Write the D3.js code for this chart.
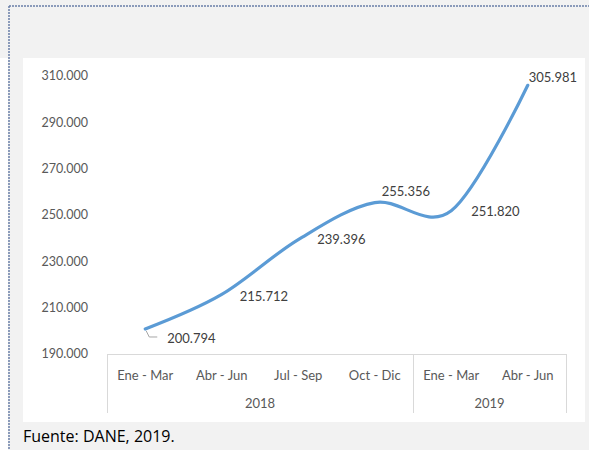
<!DOCTYPE html>
<html lang="es">
<head>
  <meta charset="UTF-8">
  <title>Chart</title>
  <script src="https://d3js.org/d3.v7.min.js"></script>
  <style>
    body { margin: 0; background: #f2f2f2; }
    svg { display: block; font-family: Lato, "Open Sans", sans-serif; }
  </style>
</head>
<body>
  <div id="viz"></div>

  <script>
    // Data
    const quarters = ["Ene - Mar", "Abr - Jun", "Jul - Sep", "Oct - Dic", "Ene - Mar", "Abr - Jun"];
    const years = ["2018", "2018", "2018", "2018", "2019", "2019"];
    const values = [200794, 215712, 239396, 255356, 251820, 305981];
    const yTicks = [190000, 210000, 230000, 250000, 270000, 290000, 310000];

    // Label offsets from each point (px)
    const labelDx = [22, 18, 19, 7, 20, 1];
    const labelDy = [9, 2, 0, -11, 1, -8];

    const W = 589, H = 450;
    const plotLeft = 107, plotRight = 566, plotTop = 76, plotBottom = 354;

    const svg = d3.select('#viz')
      .append('svg')
        .attr('width', W)
        .attr('height', H);

    // backgrounds
    svg.append('rect').attr('x', 0).attr('y', 0).attr('width', W).attr('height', H).attr('fill', '#f2f2f2');
    svg.append('rect').attr('x', 0).attr('y', 58).attr('width', 8).attr('height', H - 58).attr('fill', '#ffffff');
    svg.append('rect').attr('x', 23).attr('y', 58).attr('width', 562).attr('height', 364).attr('fill', '#ffffff');

    // dashed frame lines
    svg.append('line').attr('x1', 9).attr('x2', W).attr('y1', 6).attr('y2', 6)
      .attr('stroke', '#6a7fa8').attr('stroke-width', 1.5).attr('stroke-dasharray', '2,1');
    svg.append('line').attr('x1', 9).attr('x2', 9).attr('y1', 6).attr('y2', H)
      .attr('stroke', '#6a7fa8').attr('stroke-width', 1.5).attr('stroke-dasharray', '2,1');

    const idx = d3.range(values.length);
    const x = d3.scaleBand()
      .domain(idx)
      .range([plotLeft, plotRight])
      .padding(0);
    const y = d3.scaleLinear()
      .domain([190000, 310000])
      .range([plotBottom, plotTop]);

    const fmt = d3.formatLocale({ decimal: ",", thousands: ".", grouping: [3], currency: ["$", ""] }).format(",.0f");

    // y axis labels
    svg.append('g')
      .selectAll('text')
      .data(yTicks)
      .join('text')
        .attr('x', 88)
        .attr('y', d => y(d))
        .attr('dy', '0.35em')
        .attr('text-anchor', 'end')
        .attr('font-size', 12.5)
        .attr('fill', '#595959')
        .text(d => fmt(d));

    // x axis: top line, group separators
    const axisColor = '#d9d9d9';
    svg.append('line')
      .attr('x1', plotLeft).attr('x2', plotRight)
      .attr('y1', plotBottom + 0.5).attr('y2', plotBottom + 0.5)
      .attr('stroke', axisColor);

    const groups = d3.groups(idx, i => years[i]);
    const bounds = [plotLeft].concat(groups.map(g => x(g[1][g[1].length - 1]) + x.bandwidth()));
    svg.append('g')
      .selectAll('line')
      .data(bounds)
      .join('line')
        .attr('x1', d => Math.round(d) + 0.5).attr('x2', d => Math.round(d) + 0.5)
        .attr('y1', plotBottom).attr('y2', 413)
        .attr('stroke', axisColor);

    svg.append('g')
      .selectAll('text')
      .data(idx)
      .join('text')
        .attr('x', i => x(i) + x.bandwidth() / 2)
        .attr('y', 375)
        .attr('dy', '0.35em')
        .attr('text-anchor', 'middle')
        .attr('font-size', 13)
        .attr('fill', '#595959')
        .text(i => quarters[i]);

    svg.append('g')
      .selectAll('text')
      .data(groups)
      .join('text')
        .attr('x', g => (x(g[1][0]) + x(g[1][g[1].length - 1]) + x.bandwidth()) / 2)
        .attr('y', 403)
        .attr('dy', '0.35em')
        .attr('text-anchor', 'middle')
        .attr('font-size', 13)
        .attr('fill', '#595959')
        .text(g => g[0]);

    // smoothed line
    const line = d3.line()
      .x(i => x(i) + x.bandwidth() / 2)
      .y(i => y(values[i]))
      .curve(d3.curveCardinal.tension(0));

    svg.append('path')
      .datum(idx)
      .attr('d', line)
      .attr('fill', 'none')
      .attr('stroke', '#5b9bd5')
      .attr('stroke-width', 3.2)
      .attr('stroke-linecap', 'round');

    // leader line for the first label
    const px0 = x(0) + x.bandwidth() / 2, py0 = y(values[0]);
    svg.append('path')
      .attr('d', `M${px0 + 1},${py0 + 2}L${px0 + 4},${py0 + 8}L${px0 + 12},${py0 + 8}`)
      .attr('fill', 'none')
      .attr('stroke', '#a6a6a6')
      .attr('stroke-width', 1);

    // data labels
    svg.append('g')
      .selectAll('text')
      .data(idx)
      .join('text')
        .attr('x', i => x(i) + x.bandwidth() / 2 + labelDx[i])
        .attr('y', i => y(values[i]) + labelDy[i])
        .attr('dy', '0.35em')
        .attr('font-size', 13)
        .attr('fill', '#404040')
        .text(i => fmt(values[i]));

    // source note
    svg.append('text')
      .attr('x', 23)
      .attr('y', 442)
      .attr('font-family', '"Open Sans", Lato, sans-serif')
      .attr('font-size', 16)
      .attr('fill', '#000000')
      .text('Fuente: DANE, 2019.');
  </script>
</body>
</html>
